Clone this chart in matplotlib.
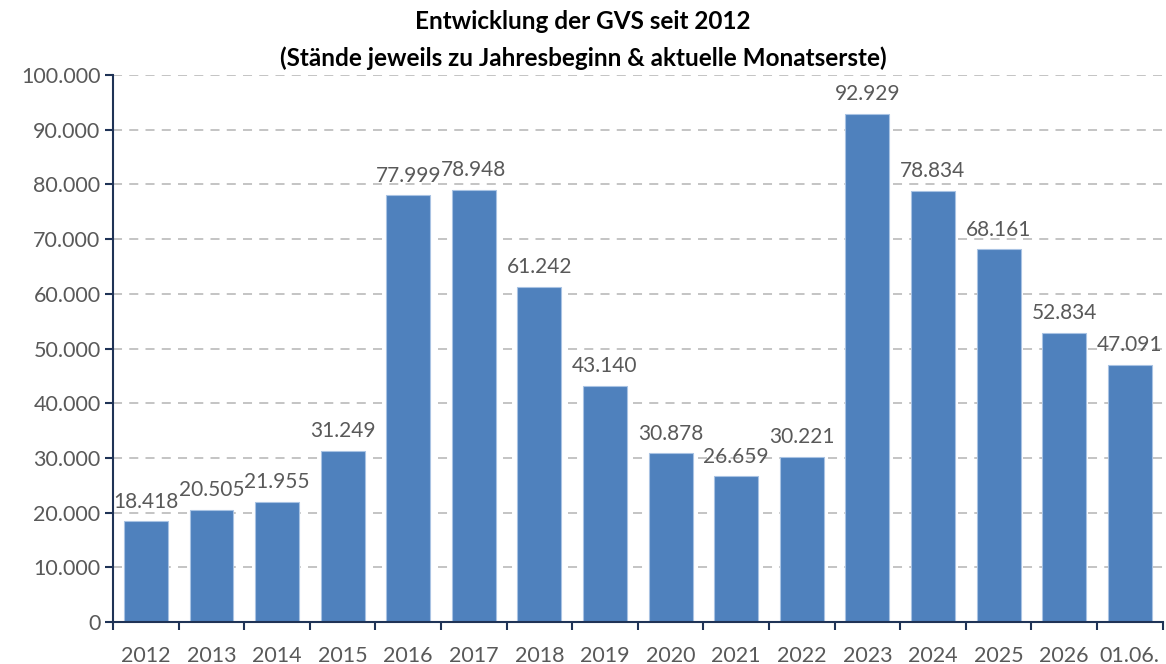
import numpy as np
import matplotlib.pyplot as plt
from matplotlib.ticker import FuncFormatter

plt.rcParams['font.family'] = ['Lato', 'DejaVu Sans']

jahre = ['2012', '2013', '2014', '2015', '2016', '2017', '2018', '2019',
         '2020', '2021', '2022', '2023', '2024', '2025', '2026', '01.06.']
gvs = [18418, 20505, 21955, 31249, 77999, 78948, 61242, 43140,
       30878, 26659, 30221, 92929, 78834, 68161, 52834, 47091]


def de_format(v, pos=None):
    # German thousands separator
    return '{:,}'.format(int(round(v))).replace(',', '.')


fig = plt.figure(figsize=(11.66, 6.64), dpi=100)
ax = fig.add_axes([0.097, 0.063, 0.9, 0.824])

x = np.arange(len(jahre))
bars = ax.bar(x, gvs, width=0.67, color='#4F81BD', edgecolor='#A9C3E3',
              linewidth=0.8, zorder=3)

for rect, val in zip(bars, gvs):
    ax.annotate(de_format(val),
                xy=(rect.get_x() + rect.get_width() / 2, rect.get_height()),
                xytext=(0, 7), textcoords='offset points',
                ha='center', va='bottom', fontsize=15, color='#595959')

ax.set_xlim(-0.5, len(jahre) - 0.5)
ax.set_ylim(0, 100000)
ax.set_yticks(np.arange(0, 100001, 10000))
ax.yaxis.set_major_formatter(FuncFormatter(de_format))
ax.grid(axis='y', color='#BFBFBF', linestyle=(0, (5, 4)), linewidth=1.3, zorder=0)

# tick marks between categories, labels centred under each bar
ax.set_xticks(np.arange(-0.5, len(jahre)))
ax.set_xticklabels([])
ax.set_xticks(x, minor=True)
ax.set_xticklabels(jahre, minor=True)
ax.tick_params(axis='x', which='major', length=6, width=1.5, color='#1F3356', direction='out')
ax.tick_params(axis='x', which='minor', length=0, pad=17, labelsize=15.5, labelcolor='#595959')
ax.tick_params(axis='y', length=6, width=1.5, color='#1F3356', direction='out',
               labelsize=15.5, labelcolor='#595959', pad=3)

for side in ['top', 'right']:
    ax.spines[side].set_visible(False)
for side in ['left', 'bottom']:
    ax.spines[side].set_color('#1F3356')
    ax.spines[side].set_linewidth(1.5)
    ax.spines[side].set_zorder(4)

fig.text(0.5, 0.968, 'Entwicklung der GVS seit 2012',
         ha='center', va='center', fontsize=17.5, fontweight='bold')
fig.text(0.5, 0.913, '(Stände jeweils zu Jahresbeginn & aktuelle Monatserste)',
         ha='center', va='center', fontsize=17.5, fontweight='bold')

fig.savefig('out.png', dpi=100)
